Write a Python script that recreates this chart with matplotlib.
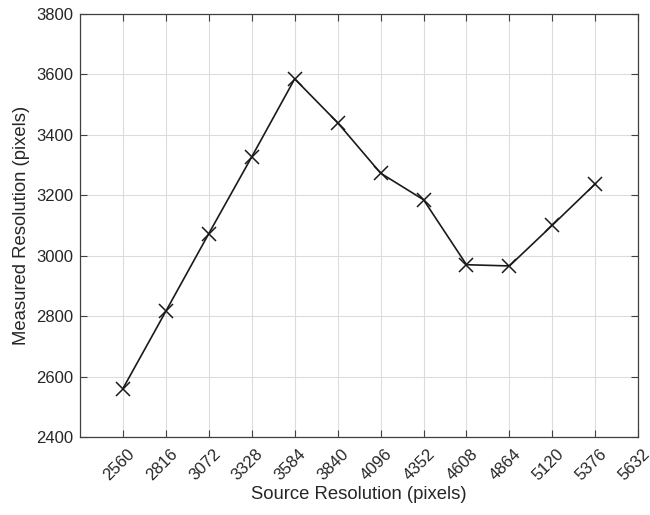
import matplotlib
matplotlib.use("Agg")
import matplotlib.pyplot as plt
import matplotlib.transforms as mtrans

# Source vs measured resolution
source_res = [2560, 2816, 3072, 3328, 3584, 3840, 4096, 4352, 4608, 4864, 5120, 5376]
measured_res = [2560, 2816, 3073, 3327, 3585, 3440, 3273, 3185, 2970, 2966, 3101, 3238]
x_ticks = [2560, 2816, 3072, 3328, 3584, 3840, 4096, 4352, 4608, 4864, 5120, 5376, 5632]
y_ticks = [2400, 2600, 2800, 3000, 3200, 3400, 3600, 3800]

plt.rcParams["font.family"] = ["Liberation Sans", "DejaVu Sans"]
text_col = "#262626"

fig = plt.figure(figsize=(6.5, 5.15), dpi=100)
ax = fig.add_axes([0.123, 0.1515, 0.859, 0.8215])

ax.plot(source_res, measured_res, color="#1a1a1a", lw=1.2,
        marker="x", markersize=10, markeredgewidth=1.1)

ax.set_xlim(2304, 5632)
ax.set_ylim(2400, 3800)
ax.set_xticks(x_ticks)
ax.set_yticks(y_ticks)
ax.set_xticklabels([str(t) for t in x_ticks], rotation=45, ha="center")
ax.grid(True, color="#dcdcdc", lw=0.8)
ax.set_axisbelow(True)

ax.tick_params(direction="in", top=True, right=True, length=5, width=0.8,
               colors="#404040", labelcolor=text_col, labelsize=12)
ax.tick_params(axis="x", pad=7)
ax.tick_params(axis="y", pad=5)

# nudge rotated x labels slightly left, like the original
shift = mtrans.ScaledTranslation(-4 / 100, 0, fig.dpi_scale_trans)
for lbl in ax.get_xticklabels():
    lbl.set_transform(lbl.get_transform() + shift)

for s in ax.spines.values():
    s.set_color("#404040")
    s.set_linewidth(0.9)

ax.set_xlabel("Source Resolution (pixels)", fontsize=13.3, color=text_col, labelpad=2)
ax.set_ylabel("Measured Resolution (pixels)", fontsize=13.3, color=text_col, labelpad=4)

fig.savefig("out.png", dpi=100)
